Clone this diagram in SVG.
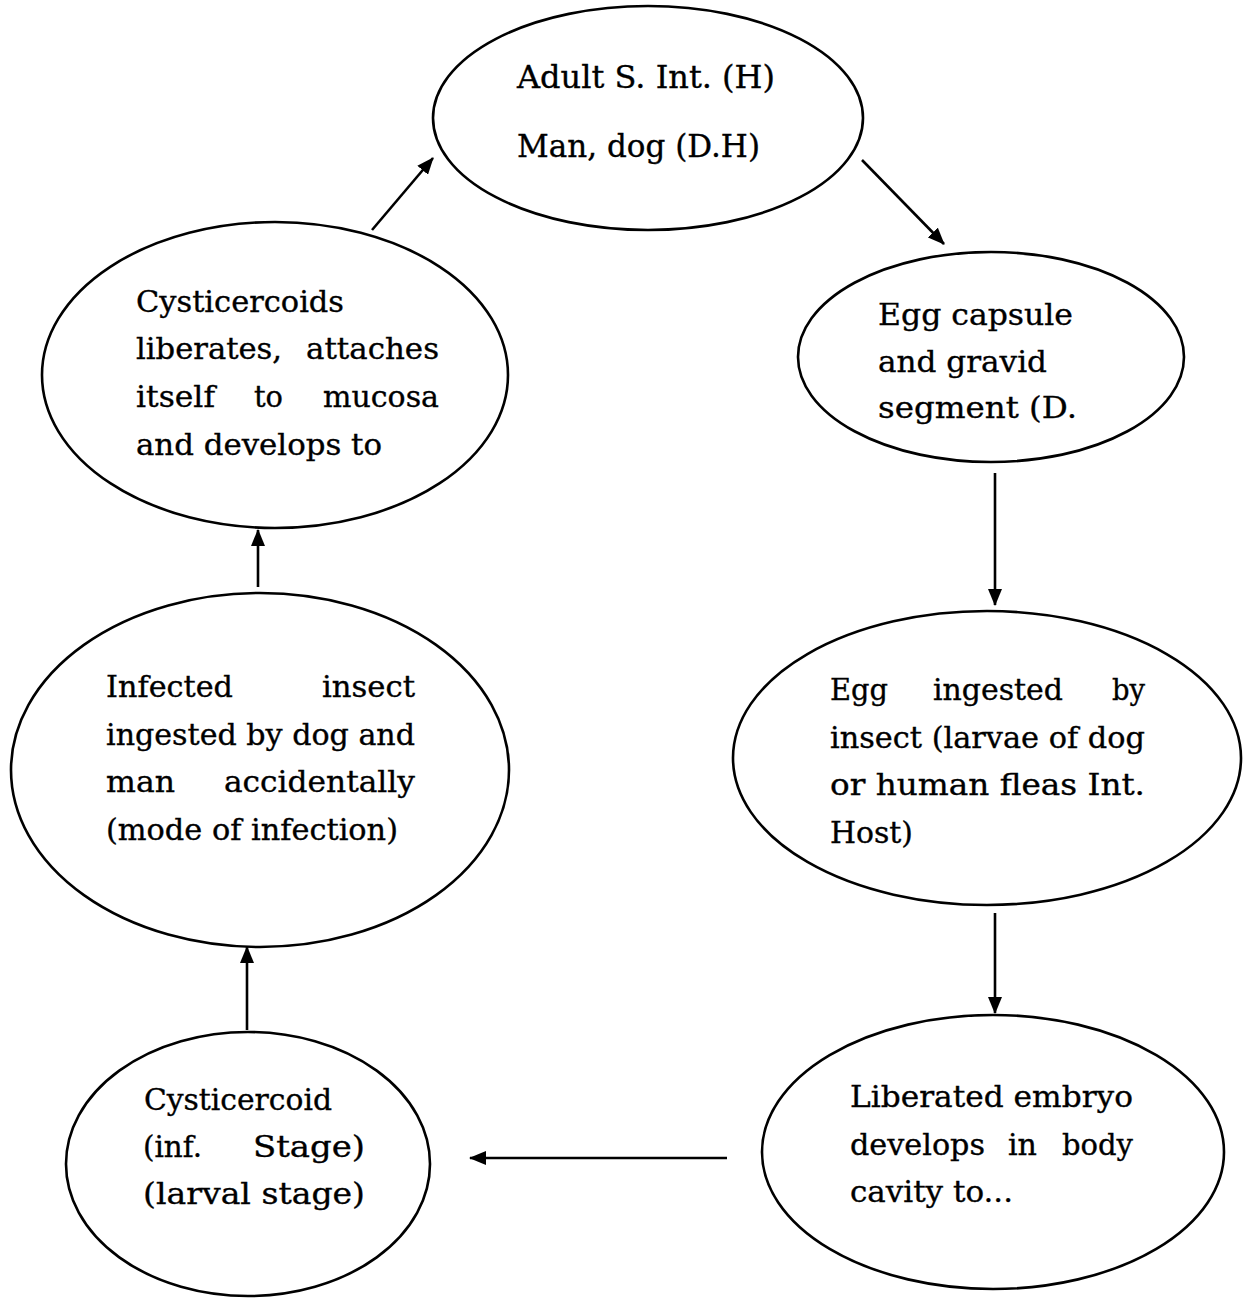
<svg xmlns="http://www.w3.org/2000/svg" width="1246" height="1298" viewBox="0 0 1246 1298">
  <style>
    .node { fill: #fff; stroke: #000; stroke-width: 2.6; }
    .lbl { font-family: "DejaVu Serif", "Liberation Serif", serif; font-size: 30px; fill: #000; stroke: #000; stroke-width: 0.35; }
    .lbl-lg { font-family: "DejaVu Serif", "Liberation Serif", serif; font-size: 32px; fill: #000; stroke: #000; stroke-width: 0.35; }
    .edge { stroke: #000; stroke-width: 2.6; fill: none; marker-end: url(#head); }
  </style>
  <defs>
    <marker id="head" viewBox="0 0 17 14" refX="16" refY="7" markerWidth="17" markerHeight="14" markerUnits="userSpaceOnUse" orient="auto">
      <path d="M0,0 L17,7 L0,14 z" fill="#000"/>
    </marker>
  </defs>
  <rect width="1246" height="1298" fill="#fff"/>

  <g id="connectors">
    <line class="edge" x1="372" y1="230" x2="433" y2="158"/>
    <line class="edge" x1="862" y1="160" x2="944" y2="244"/>
    <line class="edge" x1="995" y1="473" x2="995" y2="605"/>
    <line class="edge" x1="995" y1="913" x2="995" y2="1013"/>
    <line class="edge" x1="727" y1="1158" x2="470" y2="1158"/>
    <line class="edge" x1="247" y1="1030" x2="247" y2="947"/>
    <line class="edge" x1="258" y1="587" x2="258" y2="530"/>
  </g>

  <g id="adult">
    <ellipse class="node" cx="648" cy="118" rx="215" ry="112"/>
    <text class="lbl-lg" x="517" y="88" textLength="258" lengthAdjust="spacingAndGlyphs">Adult S. Int. (H)</text>
    <text class="lbl-lg" x="517" y="157" textLength="243" lengthAdjust="spacingAndGlyphs">Man, dog (D.H)</text>
  </g>

  <g id="egg-capsule">
    <ellipse class="node" cx="991" cy="357" rx="193" ry="105"/>
    <text class="lbl" x="878" y="325" textLength="195" lengthAdjust="spacingAndGlyphs">Egg capsule</text>
    <text class="lbl" x="878" y="372" textLength="169" lengthAdjust="spacingAndGlyphs">and gravid</text>
    <text class="lbl" x="878" y="418" textLength="199" lengthAdjust="spacingAndGlyphs">segment (D.</text>
  </g>

  <g id="egg-ingested">
    <ellipse class="node" cx="987" cy="758" rx="254" ry="147"/>
    <text class="lbl" x="830" y="700" textLength="58" lengthAdjust="spacingAndGlyphs">Egg</text>
    <text class="lbl" x="933" y="700" textLength="130" lengthAdjust="spacingAndGlyphs">ingested</text>
    <text class="lbl" x="1112" y="700" textLength="33" lengthAdjust="spacingAndGlyphs">by</text>
    <text class="lbl" x="830" y="748" textLength="315" lengthAdjust="spacingAndGlyphs">insect (larvae of dog</text>
    <text class="lbl" x="830" y="795" textLength="315" lengthAdjust="spacingAndGlyphs">or human fleas Int.</text>
    <text class="lbl" x="830" y="843" textLength="83" lengthAdjust="spacingAndGlyphs">Host)</text>
  </g>

  <g id="liberated-embryo">
    <ellipse class="node" cx="993" cy="1152" rx="231" ry="137"/>
    <text class="lbl" x="850" y="1107" textLength="283" lengthAdjust="spacingAndGlyphs">Liberated embryo</text>
    <text class="lbl" x="850" y="1155" textLength="135" lengthAdjust="spacingAndGlyphs">develops</text>
    <text class="lbl" x="1008" y="1155" textLength="29" lengthAdjust="spacingAndGlyphs">in</text>
    <text class="lbl" x="1062" y="1155" textLength="71" lengthAdjust="spacingAndGlyphs">body</text>
    <text class="lbl" x="850" y="1202" textLength="163" lengthAdjust="spacingAndGlyphs">cavity to...</text>
  </g>

  <g id="cysticercoid">
    <ellipse class="node" cx="248" cy="1164" rx="182" ry="132"/>
    <text class="lbl" x="144" y="1110" textLength="188" lengthAdjust="spacingAndGlyphs">Cysticercoid</text>
    <text class="lbl" x="143" y="1157" textLength="59" lengthAdjust="spacingAndGlyphs">(inf.</text>
    <text class="lbl" x="253" y="1157" textLength="112" lengthAdjust="spacingAndGlyphs">Stage)</text>
    <text class="lbl" x="143" y="1204" textLength="222" lengthAdjust="spacingAndGlyphs">(larval stage)</text>
  </g>

  <g id="infected-insect">
    <ellipse class="node" cx="260" cy="770" rx="249" ry="177"/>
    <text class="lbl" x="106" y="697" textLength="127" lengthAdjust="spacingAndGlyphs">Infected</text>
    <text class="lbl" x="322" y="697" textLength="93" lengthAdjust="spacingAndGlyphs">insect</text>
    <text class="lbl" x="106" y="745" textLength="309" lengthAdjust="spacingAndGlyphs">ingested by dog and</text>
    <text class="lbl" x="106" y="792" textLength="69" lengthAdjust="spacingAndGlyphs">man</text>
    <text class="lbl" x="224" y="792" textLength="191" lengthAdjust="spacingAndGlyphs">accidentally</text>
    <text class="lbl" x="106" y="840" textLength="292" lengthAdjust="spacingAndGlyphs">(mode of infection)</text>
  </g>

  <g id="cysticercoids-attach">
    <ellipse class="node" cx="275" cy="375" rx="233" ry="153"/>
    <text class="lbl" x="136" y="312" textLength="208" lengthAdjust="spacingAndGlyphs">Cysticercoids</text>
    <text class="lbl" x="136" y="359" textLength="146" lengthAdjust="spacingAndGlyphs">liberates,</text>
    <text class="lbl" x="306" y="359" textLength="133" lengthAdjust="spacingAndGlyphs">attaches</text>
    <text class="lbl" x="136" y="407" textLength="79" lengthAdjust="spacingAndGlyphs">itself</text>
    <text class="lbl" x="254" y="407" textLength="29" lengthAdjust="spacingAndGlyphs">to</text>
    <text class="lbl" x="323" y="407" textLength="116" lengthAdjust="spacingAndGlyphs">mucosa</text>
    <text class="lbl" x="136" y="455" textLength="246" lengthAdjust="spacingAndGlyphs">and develops to</text>
  </g>
</svg>
